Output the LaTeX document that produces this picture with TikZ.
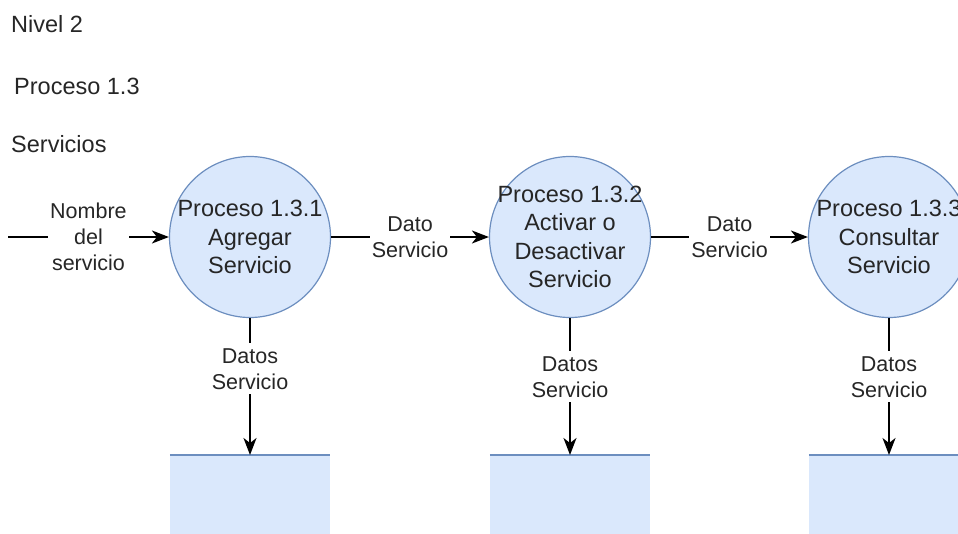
\documentclass[tikz,border=0pt]{standalone}
\usepackage{fontspec}
\setmainfont{Liberation Sans}
\usetikzlibrary{arrows.meta}
\definecolor{procfill}{HTML}{DAE8FC}
\definecolor{procline}{HTML}{6C8EBF}
\definecolor{inktext}{HTML}{262626}
\begin{document}
\begin{tikzpicture}
[
    x=1pt, y=-1pt,
    title/.style={anchor=west, inner sep=0pt, text=inktext, font=\fontsize{23.5}{28}\selectfont},
    process/.style={circle, draw=procline, fill=procfill, line width=1.2pt, minimum size=161pt, inner sep=0pt},
    proctext/.style={align=center, text=inktext, font=\fontsize{23.5}{28.5}\selectfont},
    store/.style={fill=procfill, minimum width=160pt, minimum height=80pt, inner sep=0pt, anchor=north},
    flow/.style={draw=black, line width=1.8pt, -{Stealth[length=17pt, width=13pt, inset=5pt]}},
    flowlabel/.style={fill=white, align=center, inner xsep=2pt, inner ysep=5pt, text=inktext, font=\fontsize{21.5}{26}\selectfont},
]
\useasboundingbox (0,0) rectangle (958,533);

% titles
\node[title] (nivel) at (11,24) {Nivel 2};
\node[title] (proceso) at (14,86) {Proceso 1.3};
\node[title] (servicios) at (11,144) {Servicios};

% processes
\node[process] (p1) at (250,237) {};
\node[process] (p2) at (570,237) {};
\node[process] (p3) at (889,237) {};
\node[proctext] (p1text) at (p1) {Proceso 1.3.1\\Agregar\\Servicio};
\node[proctext] (p2text) at (p2) {Proceso 1.3.2\\Activar o\\Desactivar\\Servicio};
\node[proctext] (p3text) at (p3) {Proceso 1.3.3\\Consultar\\Servicio};

% data stores
\node[store] (s1) at (250,455) {};
\node[store] (s2) at (570,455) {};
\node[store] (s3) at (889,455) {};
\foreach \s in {s1,s2,s3}
    \draw[procline, line width=1.2pt] (\s.north west) -- (\s.north east);

% flows
\coordinate (in) at (8,237);
\draw[flow] (in) -- node[flowlabel] (l0) {Nombre\\del\\servicio} (p1.west);
\draw[flow] (p1.east) -- node[flowlabel] (l1) {Dato\\Servicio} (p2.west);
\draw[flow] (p2.east) -- node[flowlabel] (l2) {Dato\\Servicio} (p3.west);
\draw[flow] (p1.south) -- node[flowlabel, pos=0.37] (d1) {Datos\\Servicio} (s1.north);
\draw[flow] (p2.south) -- node[flowlabel, pos=0.43] (d2) {Datos\\Servicio} (s2.north);
\draw[flow] (p3.south) -- node[flowlabel, pos=0.43] (d3) {Datos\\Servicio} (s3.north);
\end{tikzpicture}
\end{document}
